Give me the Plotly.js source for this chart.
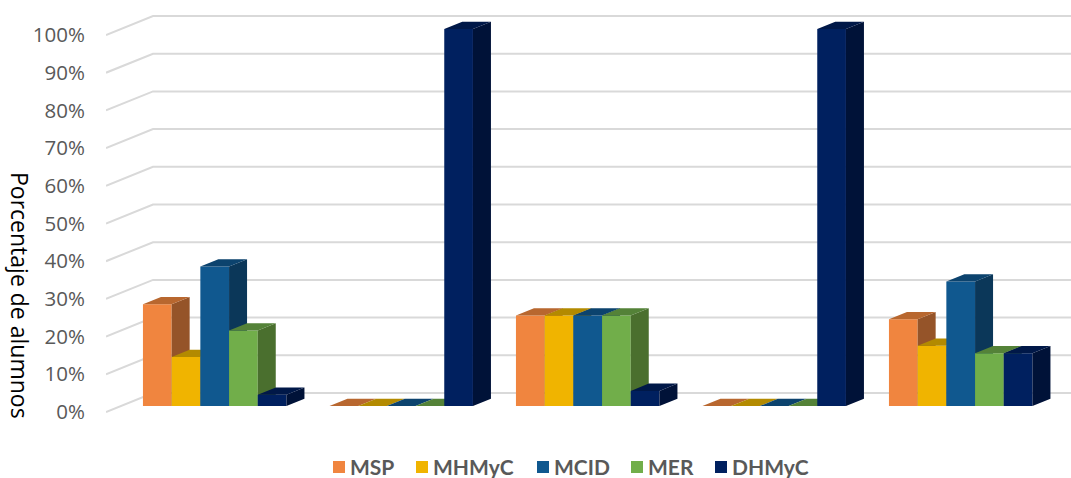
<!DOCTYPE html>
<html><head><meta charset="utf-8">
<script src="https://cdn.plot.ly/plotly-3.0.1.min.js"></script>
<style>html,body{margin:0;padding:0;background:#fff}#c{width:1071px;height:478px}</style>
</head><body><div id="c"></div>
<script>
const categories = [0, 1, 2, 3, 4];
const seriesNames = ['MSP', 'MHMyC', 'MCID', 'MER', 'DHMyC'];
const MSP   = [27, 0, 24, 0, 23];
const MHMyC = [13, 0, 24, 0, 16];
const MCID  = [37, 0, 24, 0, 33];
const MER   = [20, 0, 24, 0, 14];
const DHMyC = [3, 100, 4, 100, 14];
const seriesValues = [MSP, MHMyC, MCID, MER, DHMyC];
const frontColors = ['#F0853F', '#F0B400', '#10588F', '#71AE4A', '#00205F'];
const topColors   = ['#B8672F', '#B38A00', '#0C436E', '#548238', '#001848'];
const sideColors  = ['#955429', '#8F7000', '#0B3759', '#4A6F2E', '#001238'];
const yTicks = [0,10,20,30,40,50,60,70,80,90,100];

// page geometry
const W = 1071, H = 478, L = 106, B = 60;
const pxPerCat = 186.5, cat0Px = 214.7, pxPerPct = 3.77;
const barBaseY = 406, wallBaseY = 412;
const xOf = px => (px - cat0Px) / pxPerCat;
const barW = 28.7 / pxPerCat;
const depthX = 18 / pxPerCat, depthY = 7.3 / pxPerPct;
const wallDX = 47 / pxPerCat, wallDY = 19 / pxPerPct;
const xRange = [xOf(L), xOf(W)];
const barRange = [(barBaseY - (H - B)) / pxPerPct, barBaseY / pxPerPct];
const wallRange = [(wallBaseY - (H - B)) / pxPerPct, wallBaseY / pxPerPct];

const traces = [];
const layout = {
  width: W, height: H, showlegend: false,
  margin: {l: L, r: 0, t: 0, b: B, pad: 0},
  paper_bgcolor: '#fff', plot_bgcolor: '#fff',
  xaxis: {range: xRange, showgrid: false, zeroline: false, showticklabels: false, ticks: '', showline: false, fixedrange: true},
  yaxis: {range: wallRange, tickvals: yTicks, ticktext: yTicks.map(v => v + '%'),
          showgrid: false, zeroline: false, showline: false, ticks: 'outside', ticklen: 16, tickcolor: 'rgba(0,0,0,0)',
          tickfont: {family: '"Open Sans", sans-serif', size: 20.5, color: '#595959'}, fixedrange: true},
  shapes: [], annotations: []
};

// walls: gridlines run from the front edge to the back wall
yTicks.forEach(v => {
  layout.shapes.push({type: 'path', layer: 'below', xref: 'x', yref: 'y',
    path: `M${xOf(L)},${v} L${xOf(L) + wallDX},${v + wallDY} L${xRange[1]},${v + wallDY}`,
    line: {color: '#D9D9D9', width: 2}});
});

seriesValues.forEach((vals, s) => {
  const yName = 'y' + (s + 2), yKey = 'yaxis' + (s + 2);
  layout[yKey] = {overlaying: 'y', range: barRange, visible: false, fixedrange: true};
  const off = (s - 2) * barW;
  traces.push({type: 'bar', name: seriesNames[s], x: categories.map(c => c + off), y: vals, width: barW,
    yaxis: yName, marker: {color: frontColors[s], line: {width: 0}}});
  const tx = [], ty = [], sx = [], sy = [];
  categories.forEach((c, i) => {
    const x0 = c + off - barW / 2, x1 = x0 + barW, v = vals[i];
    tx.push(x0, x1, x1 + depthX, x0 + depthX, x0, null);
    ty.push(v, v, v + depthY, v + depthY, v, null);
    sx.push(x1, x1 + depthX, x1 + depthX, x1, x1, null);
    sy.push(0, depthY, v + depthY, v, 0, null);
  });
  traces.push({type: 'scatter', mode: 'lines', x: sx, y: sy, yaxis: yName, fill: 'toself',
    fillcolor: sideColors[s], line: {width: 0}, hoverinfo: 'skip'});
  traces.push({type: 'scatter', mode: 'lines', x: tx, y: ty, yaxis: yName, fill: 'toself',
    fillcolor: topColors[s], line: {width: 0}, hoverinfo: 'skip'});
});

// legend row
const paperX = px => (px - L) / (W - L);
const paperY = py => ((H - B) - py) / (H - B);
const swatchPx = [333, 416, 537, 631, 715];
seriesNames.forEach((n, s) => {
  layout.shapes.push({type: 'rect', xref: 'paper', yref: 'paper', layer: 'above',
    x0: paperX(swatchPx[s]), x1: paperX(swatchPx[s] + 12), y0: paperY(473), y1: paperY(461),
    fillcolor: frontColors[s], line: {width: 0}});
  layout.annotations.push({xref: 'paper', yref: 'paper', x: paperX(swatchPx[s] + 17), y: paperY(466),
    xanchor: 'left', yanchor: 'middle', showarrow: false, text: '<b>' + n + '</b>',
    xshift: 0, borderpad: 0, borderwidth: 0,
    font: {family: 'Lato, sans-serif', size: 21, color: '#595959'}});
});
layout.annotations.push({xref: 'paper', yref: 'paper', x: paperX(20), y: paperY(295), textangle: 90,
  xanchor: 'center', yanchor: 'middle', showarrow: false, text: 'Porcentaje de alumnos',
  font: {family: '"Open Sans", sans-serif', size: 23, color: '#000'}});

Plotly.newPlot('c', traces, layout, {displayModeBar: false, staticPlot: true});
</script></body></html>
